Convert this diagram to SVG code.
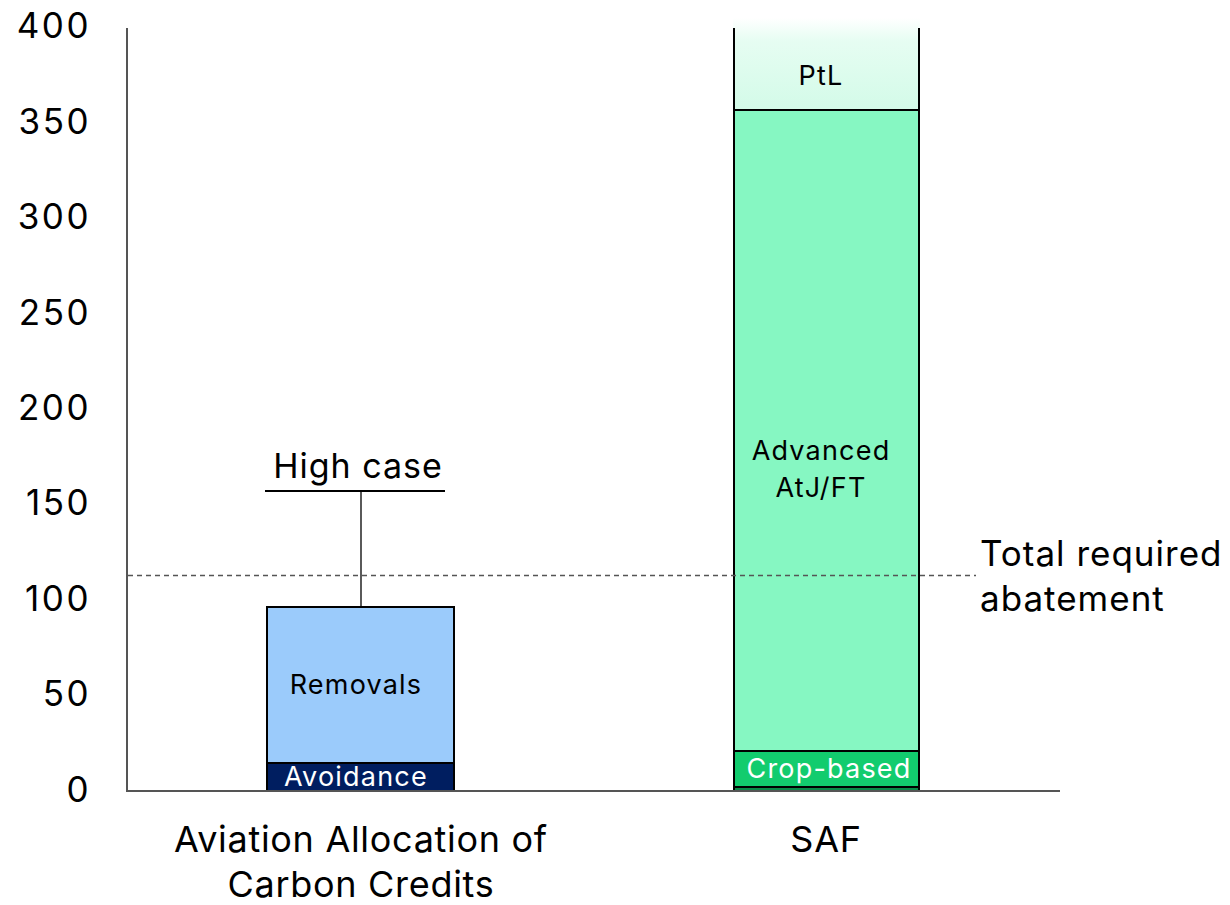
<svg xmlns="http://www.w3.org/2000/svg" width="1230" height="905" viewBox="0 0 1230 905">
  <style>
    text { font-family: Inter, "Noto Sans", "Liberation Sans", sans-serif; fill: #000; }
    .tick { font-size: 35px; letter-spacing: 2.5px; text-anchor: end; }
    .cat { font-size: 36px; letter-spacing: 0.7px; text-anchor: middle; }
    .lbl { font-size: 27px; letter-spacing: 1.2px; text-anchor: middle; }
    .note { font-size: 35px; letter-spacing: 1px; }
    .wht { fill: #fff; }
    .seg { stroke: #000; stroke-width: 2; }
    .axis { stroke: #555; stroke-width: 2; fill: none; }
  </style>
  <defs>
    <linearGradient id="ptlFade" x1="0" y1="0" x2="0" y2="1">
      <stop offset="0" stop-color="#ffffff"/>
      <stop offset="0.25" stop-color="#e6fdf2"/>
      <stop offset="1" stop-color="#d3fbe8"/>
    </linearGradient>
  </defs>
  <rect width="1230" height="905" fill="#fff"/>

  <!-- y axis ticks -->
  <g id="y-axis">
    <text class="tick" x="91" y="38">400</text>
    <text class="tick" x="91" y="134">350</text>
    <text class="tick" x="91" y="229">300</text>
    <text class="tick" x="91" y="325">250</text>
    <text class="tick" x="91" y="420">200</text>
    <text class="tick" x="91" y="515">150</text>
    <text class="tick" x="91" y="611">100</text>
    <text class="tick" x="91" y="706">50</text>
    <text class="tick" x="91" y="802">0</text>
  </g>

  <!-- carbon credits stack -->
  <g id="removals">
    <rect class="seg" x="267" y="607" width="187" height="156" fill="#9bcbfb"/>
    <text class="lbl" x="356" y="694">Removals</text>
  </g>
  <g id="avoidance">
    <rect class="seg" x="267" y="763" width="187" height="28" fill="#001e60"/>
    <text class="lbl wht" x="356" y="786">Avoidance</text>
  </g>

  <!-- SAF stack -->
  <g id="ptl">
    <rect x="733" y="18" width="187" height="92" fill="url(#ptlFade)"/>
    <line class="seg" x1="734" y1="28" x2="734" y2="110"/>
    <line class="seg" x1="919" y1="28" x2="919" y2="110"/>
    <text class="lbl" x="821" y="85">PtL</text>
  </g>
  <g id="advanced">
    <rect class="seg" x="734" y="110" width="185" height="641" fill="#86f7c2"/>
    <text class="lbl" x="821" y="460">Advanced</text>
    <text class="lbl" x="821" y="497">AtJ/FT</text>
  </g>
  <g id="crop-based">
    <rect class="seg" x="734" y="751" width="185" height="36" fill="#12cc6e"/>
    <text class="lbl wht" x="829" y="778">Crop-based</text>
  </g>
  <g id="base-layer">
    <rect class="seg" x="734" y="787" width="185" height="4" fill="#0a8a48"/>
  </g>

  <!-- axes and reference lines -->
  <g id="connectors">
    <line class="axis" x1="127" y1="28" x2="127" y2="792"/>
    <line class="axis" x1="126" y1="791" x2="1060" y2="791"/>
    <line x1="128" y1="575.5" x2="976" y2="575.5" stroke="#555" stroke-width="1.3" stroke-dasharray="5,4"/>
    <line x1="361" y1="491" x2="361" y2="607" stroke="#000" stroke-width="1.3"/>
    <line x1="265" y1="491" x2="445" y2="491" stroke="#000" stroke-width="1.8"/>
  </g>

  <g id="high-case">
    <text x="358" y="478" font-size="34" letter-spacing="1" text-anchor="middle">High case</text>
  </g>
  <g id="total-required">
    <text class="note" x="980" y="566">Total required</text>
    <text class="note" x="980" y="611">abatement</text>
  </g>

  <!-- category labels -->
  <g id="categories">
    <text class="cat" x="361" y="852">Aviation Allocation of</text>
    <text class="cat" x="361" y="897">Carbon Credits</text>
    <text class="cat" x="826" y="852">SAF</text>
  </g>
</svg>
